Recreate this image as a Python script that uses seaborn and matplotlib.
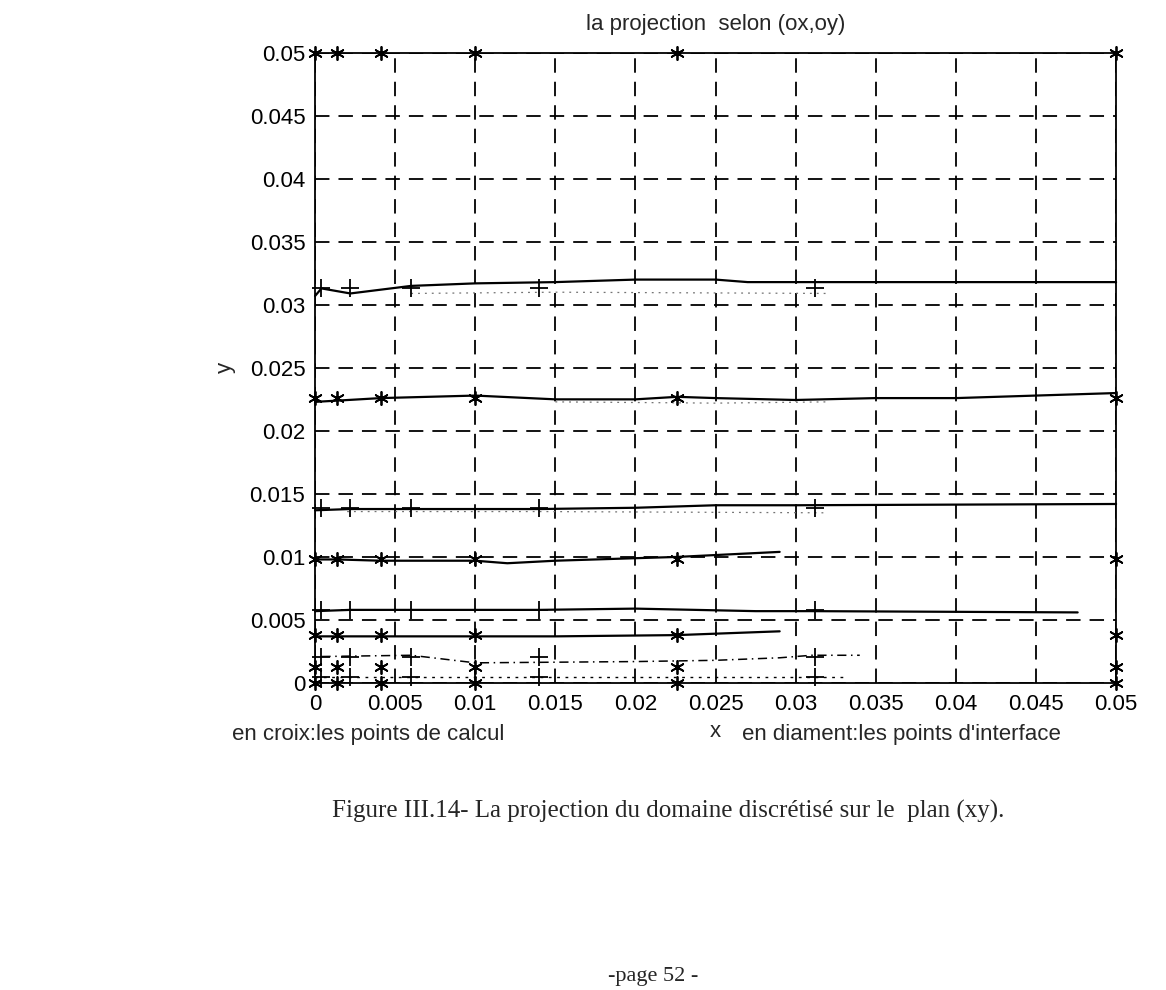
import numpy as np
import pandas as pd
import seaborn as sns
import matplotlib.pyplot as plt

# interface points (stars) and calculation points (crosses)
x_interface = [0, 0.0014, 0.0041, 0.01, 0.0226, 0.05]
y_interface = [0, 0.0013, 0.0038, 0.0098, 0.0226, 0.05]
x_calc = [0.0004, 0.0022, 0.006, 0.014, 0.0312]
y_calc = [0.0005, 0.0021, 0.0058, 0.0139, 0.0313]

# projected curves (solid)
c1_x = [0, 0.0004, 0.0022, 0.006, 0.01, 0.015, 0.02, 0.025, 0.027, 0.05]
c1_y = [0.0307, 0.0313, 0.0309, 0.0315, 0.0317, 0.0318, 0.0320, 0.0320, 0.0318, 0.0318]
c2_x = [0, 0.0014, 0.0041, 0.01, 0.015, 0.02, 0.0226, 0.025, 0.03, 0.035, 0.04, 0.045, 0.05]
c2_y = [0.0223, 0.0224, 0.0226, 0.0228, 0.0225, 0.0225, 0.0227, 0.0226, 0.02245, 0.0226, 0.0226, 0.0228, 0.0230]
c3_x = [0, 0.0022, 0.006, 0.014, 0.02, 0.025, 0.03, 0.05]
c3_y = [0.0137, 0.0138, 0.0138, 0.0138, 0.0139, 0.0141, 0.0141, 0.0142]
c4_x = [0, 0.0014, 0.0041, 0.01, 0.012, 0.015, 0.02, 0.0226, 0.029]
c4_y = [0.0098, 0.0098, 0.0097, 0.0097, 0.0095, 0.0097, 0.0099, 0.0100, 0.0104]
c5_x = [0, 0.0022, 0.006, 0.014, 0.02, 0.0275, 0.031, 0.0476]
c5_y = [0.0057, 0.0058, 0.0058, 0.0058, 0.0059, 0.0057, 0.0057, 0.0056]
c6_x = [0, 0.0041, 0.01, 0.015, 0.0226, 0.029]
c6_y = [0.0037, 0.0037, 0.0037, 0.0037, 0.0038, 0.0041]
# broken / dotted curves
c7_x = [0.0004, 0.006, 0.01, 0.02, 0.025, 0.029, 0.031, 0.034]
c7_y = [0.0021, 0.0022, 0.0016, 0.0017, 0.0018, 0.0020, 0.0022, 0.0022]
c8_x = [0, 0.014, 0.025, 0.033]
c8_y = [0.0005, 0.0005, 0.0005, 0.0005]
# faint dotted traces under some curves
d1_x = [0.006, 0.015, 0.032]
d1_y = [0.0309, 0.0310, 0.0309]
d2_x = [0.015, 0.025, 0.032]
d2_y = [0.0223, 0.0222, 0.0223]
d3_x = [0.002, 0.014, 0.032]
d3_y = [0.0136, 0.0136, 0.0135]

ticks = [0, 0.005, 0.01, 0.015, 0.02, 0.025, 0.03, 0.035, 0.04, 0.045, 0.05]
tick_labels = ['0', '0.005', '0.01', '0.015', '0.02', '0.025', '0.03', '0.035', '0.04', '0.045', '0.05']

sns.set_style('white')
plt.rcParams['font.family'] = ['Liberation Sans', 'DejaVu Sans']

fig = plt.figure(figsize=(11.66, 9.9), dpi=100)
ax = fig.add_axes([0.2702, 0.3101, 0.6870, 0.6367])

#grid of stars and crosses
gx, gy = np.meshgrid(x_interface, y_interface)
stars = pd.DataFrame({'x': gx.ravel(), 'y': gy.ravel()})
cx, cy = np.meshgrid(x_calc, y_calc)
crosses = pd.DataFrame({'x': cx.ravel(), 'y': cy.ravel()})

solid = [(c1_x, c1_y), (c2_x, c2_y), (c3_x, c3_y), (c4_x, c4_y), (c5_x, c5_y), (c6_x, c6_y)]
for xs, ys in solid:
    sns.lineplot(x=xs, y=ys, sort=False, estimator=None, color='k', lw=1.6, ax=ax, clip_on=False)
sns.lineplot(x=c7_x, y=c7_y, sort=False, estimator=None, color='k', lw=1.1,
             linestyle=(0, (6, 3, 1, 3)), ax=ax)
sns.lineplot(x=c8_x, y=c8_y, sort=False, estimator=None, color='k', lw=1.0,
             linestyle=(0, (2, 4)), ax=ax)
for xs, ys in [(d1_x, d1_y), (d2_x, d2_y), (d3_x, d3_y)]:
    sns.lineplot(x=xs, y=ys, sort=False, estimator=None, color='0.45', lw=0.9,
                 linestyle=(0, (1.5, 4)), ax=ax)

sns.scatterplot(data=stars, x='x', y='y', marker=(6, 2, 0), s=90, color='k',
                linewidth=1.3, ax=ax, clip_on=False, zorder=5)
sns.scatterplot(data=crosses, x='x', y='y', marker='+', s=150, color='k',
                linewidth=1.3, ax=ax, clip_on=False, zorder=5)

ax.set_xlim(0, 0.05)
ax.set_ylim(0, 0.05)
ax.set_xticks(ticks)
ax.set_xticklabels(tick_labels)
ax.set_yticks(ticks)
ax.set_yticklabels(tick_labels)
ax.tick_params(direction='in', length=5, width=1, labelsize=16, color='k', labelcolor='k')
ax.tick_params(axis='x', pad=8)
ax.tick_params(axis='y', pad=7)
ax.grid(True, color='k', linestyle=(0, (8, 5)), linewidth=1.3)
for sp in ax.spines.values():
    sp.set_color('k')
    sp.set_linewidth(1.3)

ax.set_title('la projection  selon (ox,oy)', fontsize=16, pad=16)
ax.set_xlabel('x', fontsize=16, labelpad=4)
ax.set_ylabel('y', fontsize=16, labelpad=10)

fig.text(0.199, 0.2576, 'en croix:les points de calcul', fontsize=16, va='center', ha='left')
fig.text(0.636, 0.2576, "en diament:les points d'interface", fontsize=16, va='center', ha='left')

fig.text(0.573, 0.18, 'Figure III.14- La projection du domaine discrétisé sur le  plan (xy).',
         fontsize=18, family=['Liberation Serif', 'DejaVu Serif'], ha='center', va='center')
fig.text(0.56, 0.014, '-page 52 -', fontsize=16, family=['Liberation Serif', 'DejaVu Serif'],
         ha='center', va='center')

fig.savefig('out.png', dpi=100, facecolor='white')
